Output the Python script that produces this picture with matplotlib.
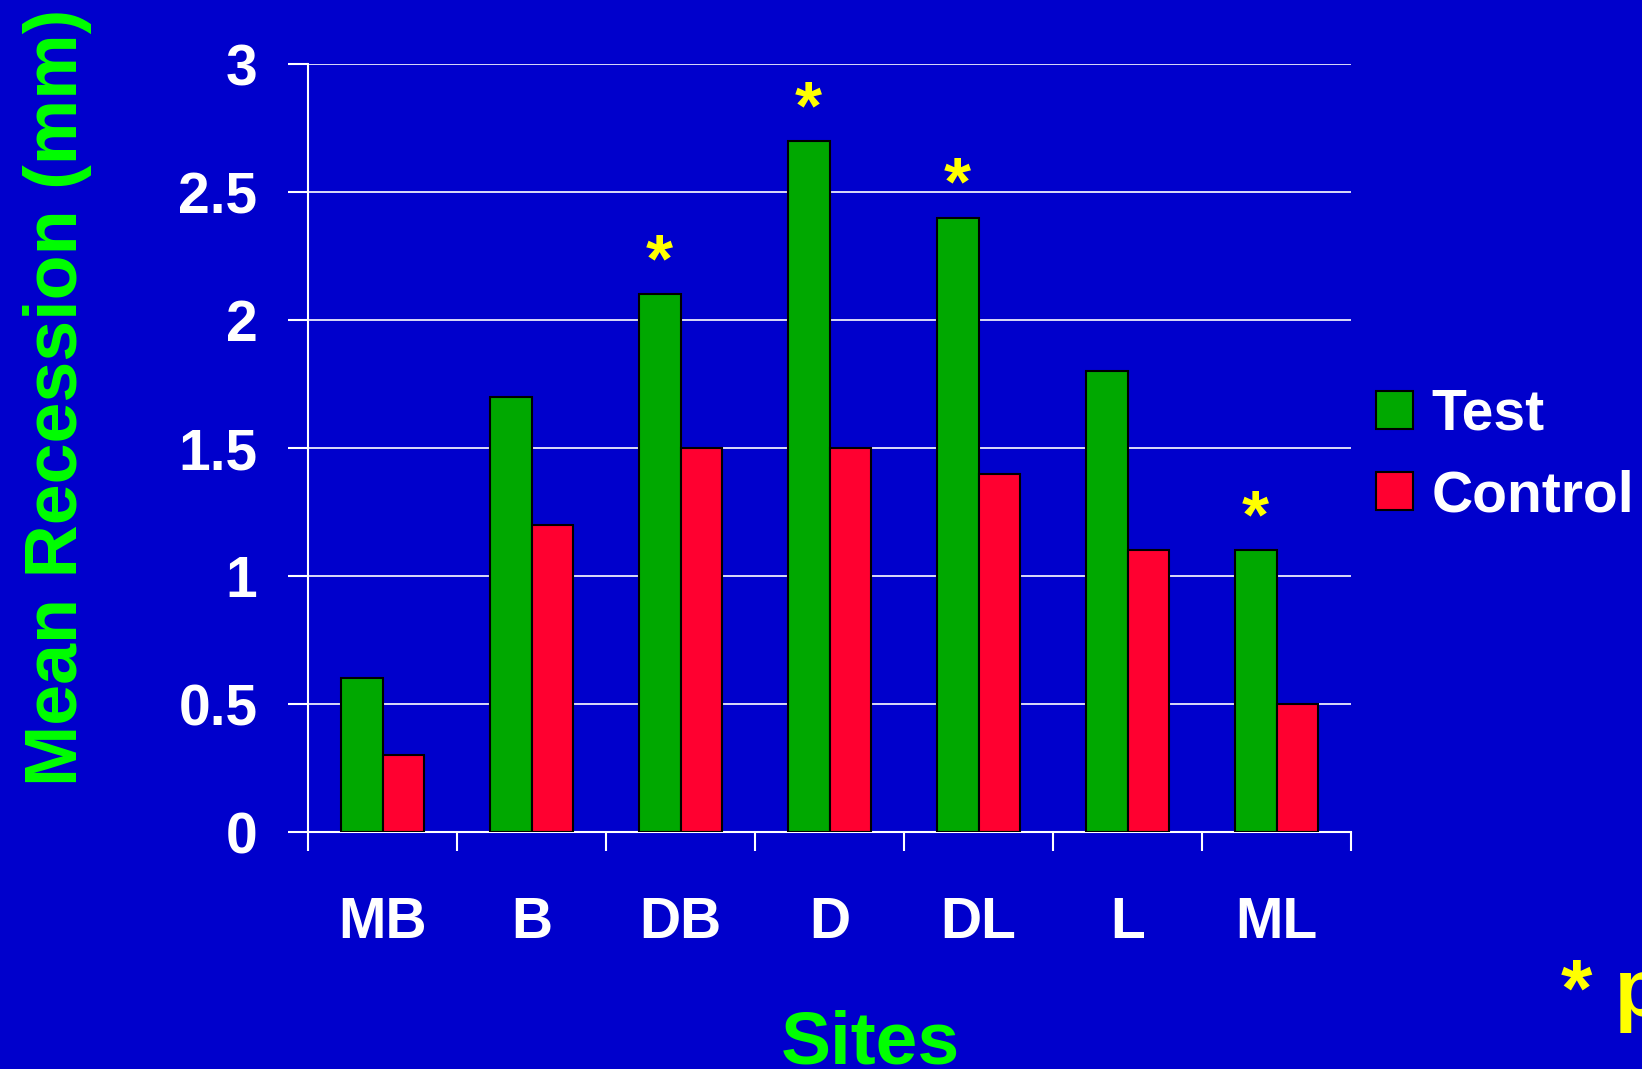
import numpy as np
import matplotlib
matplotlib.use("Agg")
import matplotlib.pyplot as plt

plt.rcParams['font.family'] = ['Liberation Sans', 'DejaVu Sans']
plt.rcParams['font.weight'] = 'bold'

# mean recession per site
sites = ["MB", "B", "DB", "D", "DL", "L", "ML"]
test = [0.6, 1.7, 2.1, 2.7, 2.4, 1.8, 1.1]
control = [0.3, 1.2, 1.5, 1.5, 1.4, 1.1, 0.5]
signif = [False, False, True, True, True, False, True]  # p < 0.05
yticks = [0, 0.5, 1, 1.5, 2, 2.5, 3]
ytick_labels = ["0", "0.5", "1", "1.5", "2", "2.5", "3"]

bg = "#0000CC"
green = "#00A800"
red = "#FF0030"
label_green = "#00FF00"
yellow = "#FFFF00"

fig = plt.figure(figsize=(16.42, 10.69), dpi=100, facecolor=bg)
ax = fig.add_axes([0.1876, 0.2217, 0.6352, 0.7184], facecolor=bg)

x = np.arange(len(sites))
w = 0.28
ax.bar(x - w/2, test, w, color=green, edgecolor="black", linewidth=1.5, label="Test", zorder=3)
ax.bar(x + w/2, control, w, color=red, edgecolor="black", linewidth=1.5, label="Control", zorder=3)

for xi, v, s in zip(x, test, signif):
    if s:
        ax.text(xi - w/2, v + 0.05, "*", color=yellow, fontsize=50, fontweight="bold",
                ha="center", va="baseline", zorder=4)

ax.set_xlim(-0.5, len(sites) - 0.5)
ax.set_ylim(0, 3)
ax.set_yticks(yticks)
ax.set_yticklabels(ytick_labels)
ax.yaxis.grid(True, color="white", linewidth=1.2, zorder=0)

# tick marks between groups, labels under group centers
ax.set_xticks(np.arange(-0.5, len(sites)))
ax.set_xticklabels([])
ax.set_xticks(x, minor=True)
ax.set_xticklabels(sites, minor=True)
ax.tick_params(axis="x", which="major", length=13.7, width=1.5, color="white", direction="out")
ax.tick_params(axis="x", which="minor", length=0, pad=46, labelsize=41, labelcolor="white")
ax.tick_params(axis="y", length=14.4, width=1.5, color="white", pad=22, labelsize=41, labelcolor="white")

for side in ["top", "right"]:
    ax.spines[side].set_visible(False)
for side in ["left", "bottom"]:
    ax.spines[side].set_color("white")
    ax.spines[side].set_linewidth(1.5)

fig.text(0.035, 0.628, "Mean Recession (mm)", rotation=90, color=label_green,
         fontsize=53, fontweight="bold", ha="center", va="center")
fig.text(0.530, 0.0056, "Sites", color=label_green, fontsize=54, fontweight="bold",
         ha="center", va="baseline")
fig.text(1561/1642, 1 - 1016/1069, "* p < 0.05", color=yellow, fontsize=58,
         fontweight="bold", ha="left", va="baseline")

leg = fig.legend(loc="center left", bbox_to_anchor=(1376/1642, 0.574), frameon=False,
                 fontsize=41, handlelength=0.65, handleheight=0.65, handletextpad=0.33,
                 labelspacing=0.48, borderpad=0, borderaxespad=0)
for t in leg.get_texts():
    t.set_color("white")
    t.set_fontweight("bold")

fig.savefig("out.png", dpi=100, facecolor=bg)
